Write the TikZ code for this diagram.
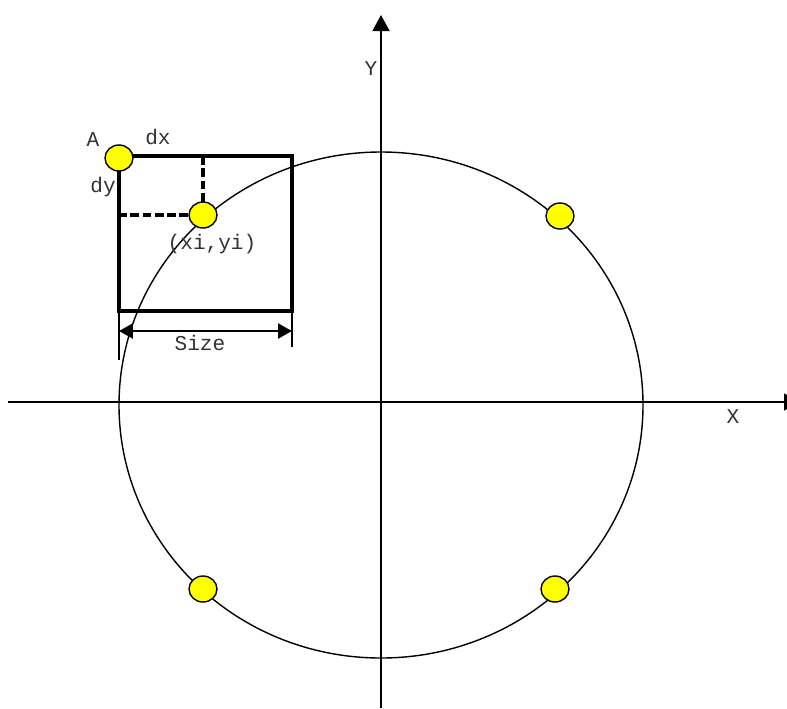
\documentclass[tikz,border=0pt]{standalone}
\usepackage{fontspec}
\setmonofont{Liberation Mono}
\usetikzlibrary{arrows.meta,shapes.geometric}
\definecolor{dotyellow}{HTML}{FFFF00}
\tikzset{
  lbl/.style={font=\ttfamily\fontsize{12}{14}\selectfont,text=black!80,inner sep=0pt},
  axis/.style={-{Triangle[length=3.2mm,width=3.4mm]},line width=0.8pt},
  frame/.style={line width=2pt},
  guide/.style={line width=2pt,dash pattern=on 5pt off 2pt},
  dim/.style={{Triangle[length=2.8mm,width=3mm]}-{Triangle[length=2.8mm,width=3mm]},line width=1.3pt},
  extline/.style={line width=0.6pt},
  dot/.style={ellipse,draw=black,fill=dotyellow,line width=0.8pt,minimum width=0.56cm,minimum height=0.52cm,inner sep=0pt}
}
\begin{document}
\begin{tikzpicture}[x=0.02cm,y=-0.02cm]
\path[use as bounding box,fill=white] (0,0) rectangle (787,708);
% axes
\coordinate (xl) at (8,402); \coordinate (xr) at (800,402);
\coordinate (yb) at (381,708); \coordinate (yt) at (381,15);
\draw[axis] (xl)--(xr);
\draw[axis] (yb)--(yt);
\node[lbl] (ylab) at (371,69) {Y};
\node[lbl] (xlab) at (733,417) {X};
% circle
\draw[line width=0.8pt] (381,405) ellipse [x radius=262,y radius=253];
% square cell
\coordinate (sa) at (119,156); \coordinate (sb) at (292,311);
\coordinate (sd) at (203,156); \coordinate (sl) at (119,215);
\draw[frame] (sa) rectangle (sb);
\draw[guide] (sd)--(203,215)--(sl);
% dimension
\coordinate (d1) at (119,331); \coordinate (d2) at (292,331);
\draw[extline] (119,311)--(119,360);
\draw[extline] (292,311)--(292,347);
\draw[dim] (d1)--(d2);
\node[lbl] (size) at (200,343) {Size};
% points
\node[dot] (pa) at (119,158) {};
\node[dot] (pi) at (203,215) {};
\node[dot] (p1) at (560,216) {};
\node[dot] (p2) at (203,589) {};
\node[dot] (p3) at (555,589) {};
\node[lbl] (alab) at (93,140) {A};
\node[lbl] (dxlab) at (158,137) {dx};
\node[lbl] (dylab) at (103,187) {dy};
\node[lbl] (xylab) at (212,244) {(xi,yi)};
\end{tikzpicture}
\end{document}
